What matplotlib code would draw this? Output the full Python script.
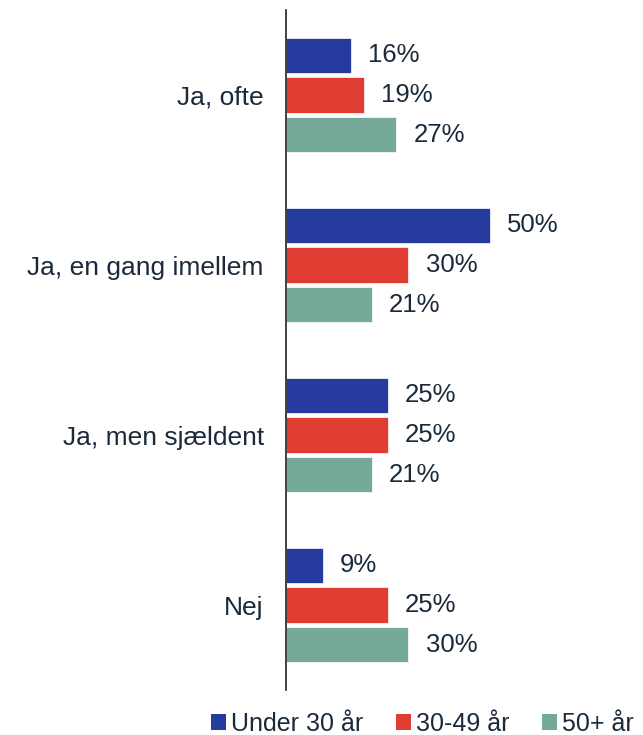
import matplotlib
matplotlib.use("Agg")
import matplotlib.pyplot as plt
from matplotlib.patches import Patch
import numpy as np

categories = ["Ja, ofte", "Ja, en gang imellem", "Ja, men sjældent", "Nej"]
series_names = ["Under 30 år", "30-49 år", "50+ år"]
under30 = [16, 50, 25, 9]
mid = [19, 30, 25, 25]
over50 = [27, 21, 21, 30]
colors = ["#253C9E", "#E03C31", "#75A99A"]
text_color = "#1B2A3A"

plt.rcParams['font.family'] = ['Liberation Sans', 'DejaVu Sans']

fig = plt.figure(figsize=(6.43, 7.35), dpi=100)
ax = fig.add_axes([286/643, 1-690/735, (643-286)/643, 680/735])

y = np.arange(len(categories))
h = 0.206
step = 0.235
for i, (vals, c) in enumerate(zip([under30, mid, over50], colors)):
    pos = y + (i - 1) * step
    bars = ax.barh(pos, vals, height=h, color=c, edgecolor='white', linewidth=0.5)
    for b, v in zip(bars, vals):
        ax.text(v + 4.2, b.get_y() + b.get_height()/2, f"{v}%", va='center', ha='left',
                fontsize=18.5, color=text_color)

ax.set_ylim(len(categories) - 0.5, -0.5)
ax.set_xlim(0, 87.5)
ax.set_yticks(y)
ax.set_yticklabels(categories, fontsize=19, color=text_color)
ax.tick_params(axis='y', length=0, pad=16)
ax.set_xticks([])
for s in ['top', 'right', 'bottom']:
    ax.spines[s].set_visible(False)
ax.spines['left'].set_color('#222222')
ax.spines['left'].set_linewidth(1.2)

handles = [Patch(facecolor=c, label=n) for c, n in zip(colors, series_names)]
fig.legend(handles=handles, loc='center', bbox_to_anchor=(422/643, 1-724/735), ncol=3,
           frameon=False, fontsize=18, handlelength=0.6, handleheight=0.6,
           handletextpad=0.2, columnspacing=1.3, labelcolor=text_color, borderaxespad=0,
           borderpad=0)

fig.savefig("out.png", dpi=100)
